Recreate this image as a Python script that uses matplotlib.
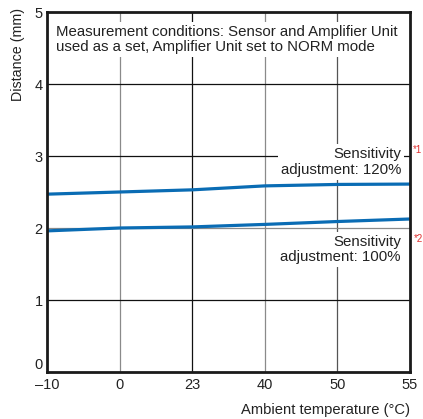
import matplotlib
matplotlib.use("Agg")
import matplotlib.pyplot as plt

plt.rcParams["font.family"] = ["Liberation Sans", "DejaVu Sans"]

temps = ["\u201310", "0", "23", "40", "50", "55"]
sens_120 = [2.47, 2.50, 2.53, 2.585, 2.605, 2.61]
sens_100 = [1.96, 2.00, 2.015, 2.05, 2.09, 2.125]
y_ticks = [0, 1, 2, 3, 4, 5]

x = list(range(len(temps)))

fig = plt.figure(figsize=(4.23, 4.19), dpi=100)
ax = fig.add_axes([47 / 423, 47 / 419, 363 / 423, 360 / 419])

ax.plot(x, sens_120, color="#0a6cb4", lw=2.3, zorder=4, solid_capstyle="butt")
ax.plot(x, sens_100, color="#0a6cb4", lw=2.3, zorder=4, solid_capstyle="butt")

ax.set_xlim(0, len(temps) - 1)
ax.set_ylim(0, 5)
ax.set_xticks(x)
ax.set_xticklabels(temps)
ax.set_yticks(y_ticks)
ax.tick_params(length=0, labelsize=10.5, colors="#222222", pad=4)
ax.tick_params(axis="y", pad=3)
ax.get_yticklabels()[0].set_verticalalignment("bottom")

ax.grid(True, lw=0.9, zorder=1)
vcols = ["none", "#8a8a8a", "#111111", "#8a8a8a", "#555555", "none"]
for gl, c in zip(ax.xaxis.get_gridlines(), vcols):
    gl.set_color(c)
hcols = ["none", "#111111", "#8a8a8a", "#111111", "#111111", "none"]
for gl, c in zip(ax.yaxis.get_gridlines(), hcols):
    gl.set_color(c)

for s in ax.spines.values():
    s.set_linewidth(2)
    s.set_color("#1a1a1a")
    s.set_zorder(6)

box = dict(facecolor="white", edgecolor="none", pad=2)
ax.text(0.025, 0.965,
        "Measurement conditions: Sensor and Amplifier Unit\n"
        "used as a set, Amplifier Unit set to NORM mode",
        transform=ax.transAxes, ha="left", va="top", fontsize=10.8,
        color="#222222", linespacing=1.15, bbox=box, zorder=3)
ax.text(0.975, 0.626, "Sensitivity\nadjustment: 120%",
        transform=ax.transAxes, ha="right", va="top", fontsize=10.8,
        color="#222222", linespacing=1.2, bbox=box, zorder=3)
ax.text(0.975, 0.38, "Sensitivity\nadjustment: 100%",
        transform=ax.transAxes, ha="right", va="top", fontsize=10.8,
        color="#222222", linespacing=1.1, bbox=box, zorder=3)

fig.text(413 / 423, 1 - 150 / 419, "*1", color="#e03030", fontsize=7,
         ha="left", va="center")
fig.text(414 / 423, 1 - 239 / 419, "*2", color="#e03030", fontsize=7,
         ha="left", va="center")

fig.text(18 / 423, 1 - 8 / 419, "Distance (mm)", rotation=90, ha="center",
         va="top", fontsize=10.3, color="#222222")
fig.text(410 / 423, 1 - 410 / 419, "Ambient temperature (\u00b0C)", ha="right",
         va="center", fontsize=10.6, color="#222222")

fig.savefig("out.png", dpi=100)
